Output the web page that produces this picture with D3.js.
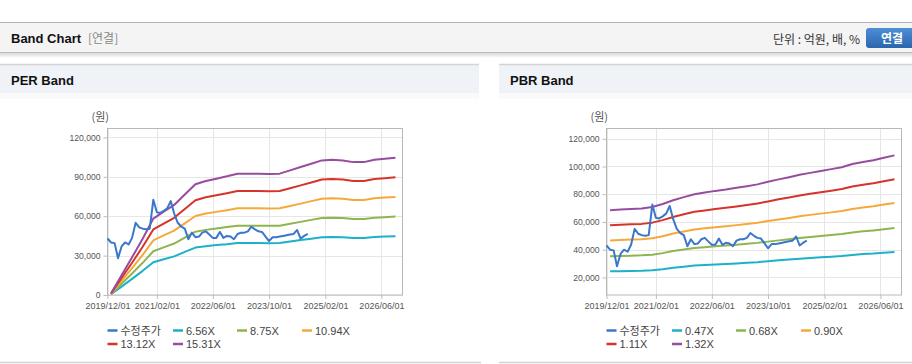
<!DOCTYPE html>
<html>
<head>
<meta charset="utf-8">
<script src="https://cdn.jsdelivr.net/npm/d3@7/dist/d3.min.js"></script>
<style>
  body { margin: 0; background: #fff; }
  svg { display: block; }
  text { font-family: "Liberation Sans", Arial, "Noto Sans CJK KR", sans-serif; }
  .kr { font-family: "Noto Sans CJK KR", "Liberation Sans", sans-serif; }
</style>
</head>
<body>
<div id="chart"></div>
<script>
// ---- data ----
var priceStart = "2019/12", bandStart = "2019/12", bandEnd = "2026/12";
var xTickLabels = ["2019/12/01", "2021/02/01", "2022/06/01", "2023/10/01", "2025/02/01", "2026/06/01"];
var seriesNames = ["수정주가"];
var perNames = ["6.56X", "8.75X", "10.94X", "13.12X", "15.31X"];
var pbrNames = ["0.47X", "0.68X", "0.90X", "1.11X", "1.32X"];
var colors = ["#3a76cc", "#1db1c9", "#8db550", "#f5a93b", "#d5332b", "#984c9d"];
var perTicks = [0, 30000, 60000, 90000, 120000];
var pbrTicks = [20000, 40000, 60000, 80000, 100000, 120000];

// monthly adjusted close
var price = [43000, 40000, 39500, 28000, 37000, 40000, 38500, 43500, 55000, 51500,
  50500, 50000, 50500, 72500, 63000, 62500, 64000, 66000, 71500, 62000,
  55000, 52000, 50500, 42500, 47500, 44000, 44500, 47500, 48500, 46000,
  43500, 43500, 48000, 43500, 45000, 44500, 42500, 46500, 47500, 47500,
  48500, 52000, 50000, 48500, 48000, 44500, 41000, 44000, 44000, 44500,
  45000, 45500, 46000, 46500, 49500, 43000, 45000, 46500];

// quarterly PER band lines
var per656 = [600, 6400, 12300, 18400, 24900, 27200, 29400, 32800, 36100, 37200, 38000, 38700, 39600, 39600, 39600,
  39500, 39600, 40700, 41800, 42900, 43900, 44100, 43900, 43400, 43400, 44100, 44500, 44800, 45300];
var per875 = [700, 8600, 16400, 24500, 33300, 36300, 39200, 43700, 48200, 49600, 50600, 51700, 52800, 52800, 52800,
  52700, 52800, 54300, 55700, 57200, 58600, 58900, 58600, 57900, 57900, 58900, 59300, 59800, 60500];
var per1094 = [900, 10700, 20500, 30600, 41600, 45400, 49000, 54600, 60200, 62000, 63300, 64600, 66000, 66000, 66000,
  65900, 66000, 67800, 69600, 71500, 73300, 73600, 73300, 72300, 72300, 73600, 74200, 74700, 75600];
var per1312 = [1100, 12900, 24600, 36700, 49900, 54400, 58800, 65500, 72200, 74400, 75900, 77500, 79200, 79200, 79200,
  79000, 79200, 81300, 83500, 85700, 87900, 88300, 87900, 86800, 86800, 88300, 89000, 89600, 90700];
var per1531 = [1300, 15000, 28700, 42900, 58200, 63500, 68600, 76500, 84300, 86800, 88600, 90400, 92400, 92400, 92400,
  92200, 92400, 94900, 97500, 100000, 102500, 103000, 102500, 101200, 101200, 103000, 103800, 104600, 105800];

// quarterly PBR band lines
var pbr047 = [24400, 24500, 24700, 24800, 25200, 25900, 26900, 27700, 28500, 28900, 29300, 29700, 30100, 30600, 31000,
  31700, 32300, 32900, 33500, 34000, 34500, 34900, 35400, 36200, 36800, 37200, 37800, 38400, 39200];
var pbr068 = [35300, 35500, 35700, 35900, 36400, 37500, 39000, 40100, 41200, 41800, 42400, 43000, 43600, 44200, 44900,
  45800, 46700, 47500, 48400, 49200, 49800, 50500, 51300, 52400, 53200, 53900, 54700, 55600, 56600];
var pbr090 = [46700, 47000, 47300, 47500, 48200, 49700, 51600, 53100, 54500, 55400, 56200, 56900, 57700, 58500, 59400,
  60700, 61800, 62900, 64100, 65100, 66000, 66900, 67900, 69400, 70400, 71300, 72500, 73600, 75000];
var pbr111 = [57600, 57900, 58300, 58600, 59500, 61300, 63600, 65500, 67300, 68300, 69300, 70200, 71200, 72200, 73300,
  74800, 76300, 77600, 79000, 80300, 81400, 82500, 83700, 85600, 86800, 87900, 89400, 90800, 92500];
var pbr132 = [68500, 68900, 69300, 69700, 70800, 72900, 75600, 77900, 80000, 81200, 82400, 83400, 84600, 85800, 87100,
  89000, 90700, 92300, 94000, 95400, 96800, 98100, 99500, 101800, 103200, 104500, 106300, 108000, 110000];

// ---- layout ----
var W = 912, H = 364;
var parseYM = d3.timeParse("%Y/%m");
var parseYMD = d3.timeParse("%Y/%m/%d");
var t0 = parseYM(bandStart), t1 = parseYM(bandEnd);
var priceDates = d3.timeMonth.range(parseYM(priceStart), d3.timeMonth.offset(parseYM(priceStart), price.length));
var bandDates = d3.timeMonth.every(3).range(t0, d3.timeMonth.offset(t1, 1));

var svg = d3.select("#chart").append("svg")
  .attr("width", W).attr("height", H);

var defs = svg.append("defs");
var sh = defs.append("linearGradient").attr("id", "shadow").attr("x1", 0).attr("y1", 0).attr("x2", 0).attr("y2", 1);
sh.append("stop").attr("offset", "0").attr("stop-color", "#d8d8d8");
sh.append("stop").attr("offset", "1").attr("stop-color", "#fff");
var bg = defs.append("linearGradient").attr("id", "btn").attr("x1", 0).attr("y1", 0).attr("x2", 0).attr("y2", 1);
bg.append("stop").attr("offset", "0").attr("stop-color", "#4d8fd6");
bg.append("stop").attr("offset", "1").attr("stop-color", "#2a65ae");

// top header
svg.append("rect").attr("x", 0).attr("y", 22).attr("width", W).attr("height", 31).attr("fill", "#f4f4f4");
svg.append("line").attr("x1", 0).attr("x2", W).attr("y1", 22.5).attr("y2", 22.5).attr("stroke", "#b4b4b4");
svg.append("line").attr("x1", 0).attr("x2", W).attr("y1", 52.5).attr("y2", 52.5).attr("stroke", "#bdbdbd");
svg.append("rect").attr("x", 0).attr("y", 53).attr("width", W).attr("height", 5).attr("fill", "url(#shadow)");

svg.append("text").attr("x", 11).attr("y", 43)
  .style("font-size", "13px").style("font-weight", "bold").attr("fill", "#111")
  .text("Band Chart");
svg.append("text").attr("class", "kr").attr("x", 88).attr("y", 43)
  .style("font-size", "12px").attr("fill", "#888").text("[연결]");
svg.append("text").attr("class", "kr").attr("x", 860).attr("y", 43.5).attr("text-anchor", "end")
  .style("font-size", "12px").attr("fill", "#333").text("단위 : 억원, 배, %");
svg.append("rect").attr("x", 866).attr("y", 28).attr("width", 56).attr("height", 20).attr("rx", 3)
  .attr("fill", "url(#btn)");
svg.append("text").attr("class", "kr").attr("x", 892).attr("y", 42.5).attr("text-anchor", "middle")
  .style("font-size", "12px").style("font-weight", "bold").attr("fill", "#fff").text("연결");

// panels
function panel(x0, x1, title) {
  svg.append("rect").attr("x", x0).attr("y", 64).attr("width", x1 - x0).attr("height", 29).attr("fill", "#eff2f7");
  svg.append("line").attr("x1", x0).attr("x2", x1).attr("y1", 64.5).attr("y2", 64.5).attr("stroke", "#d4d4d4").attr("stroke-width", 1.5);
  svg.append("rect").attr("x", x0).attr("y", 93).attr("width", x1 - x0).attr("height", 6).attr("fill", "#fafafa");
  svg.append("line").attr("x1", x0).attr("x2", x1 + 2).attr("y1", 362.5).attr("y2", 362.5).attr("stroke", "#d4d4d4").attr("stroke-width", 1.5);
  svg.append("text").attr("x", x0 + 11).attr("y", 85)
    .style("font-size", "13px").style("font-weight", "bold").attr("fill", "#111").text(title);
}
panel(0, 479, "PER Band");
panel(499, W, "PBR Band");

function bandChart(left, right, yDomain, yTicks, bandNames, bands) {
  var top = 128.5, bottom = 295;
  var x = d3.scaleTime().domain([t0, t1]).range([left, right]);
  var y = d3.scaleLinear().domain(yDomain).range([bottom, top]);
  var g = svg.append("g");

  var tickDates = xTickLabels.map(parseYMD);

  // grid
  g.selectAll(".hg").data(yTicks).enter().append("line")
    .attr("x1", left).attr("x2", right)
    .attr("y1", function(d) { return Math.round(y(d)) + 0.5; })
    .attr("y2", function(d) { return Math.round(y(d)) + 0.5; })
    .attr("stroke", "#e6e6e6");
  g.selectAll(".vg").data(tickDates).enter().append("line")
    .attr("x1", function(d) { return Math.round(x(d)) + 0.5; })
    .attr("x2", function(d) { return Math.round(x(d)) + 0.5; })
    .attr("y1", top).attr("y2", bottom)
    .attr("stroke", "#e6e6e6");

  // axes
  var yAxis = d3.axisLeft(y).tickValues(yTicks).tickSize(4).tickPadding(3).tickFormat(d3.format(",d"));
  var xAxis = d3.axisBottom(x).tickValues(tickDates).tickSize(4).tickPadding(4).tickFormat(d3.timeFormat("%Y/%m/%d"));
  var ya = g.append("g").attr("transform", "translate(" + left + ",0)").call(yAxis);
  var xa = g.append("g").attr("transform", "translate(0," + bottom + ")").call(xAxis);
  [ya, xa].forEach(function(a) {
    a.select(".domain").remove();
    a.selectAll("line").attr("stroke", "#bdbdbd");
    a.selectAll("text").attr("fill", "#555").style("font-size", "9px")
      .style("font-family", "'Liberation Sans', Arial, sans-serif");
  });
  ya.selectAll("text").style("font-size", "8.6px");

  g.append("rect").attr("x", left).attr("y", top).attr("width", right - left).attr("height", bottom - top)
    .attr("fill", "none").attr("stroke", "#b8b8b8");

  g.append("text").attr("class", "kr").attr("x", left - 16).attr("y", 121)
    .style("font-size", "11px").attr("fill", "#555").text("(원)");

  var line = d3.line().x(function(d) { return x(d[0]); }).y(function(d) { return y(d[1]); });

  bands.forEach(function(b, i) {
    g.append("path").datum(d3.zip(bandDates, b)).attr("d", line)
      .attr("fill", "none").attr("stroke", colors[i + 1]).attr("stroke-width", 2).attr("stroke-linejoin", "round");
  });
  g.append("path").datum(d3.zip(priceDates, price)).attr("d", line)
    .attr("fill", "none").attr("stroke", colors[0]).attr("stroke-width", 2).attr("stroke-linejoin", "round");

  // legend
  var names = seriesNames.concat(bandNames);
  var offs = [0, 65.5, 129.5, 194.5];
  names.forEach(function(n, i) {
    var lx = left + offs[i % 4], ly = 330.5 + Math.floor(i / 4) * 13.5;
    g.append("line").attr("x1", lx).attr("x2", lx + 10).attr("y1", ly).attr("y2", ly)
      .attr("stroke", colors[i]).attr("stroke-width", 2.5);
    g.append("text").attr("class", i === 0 ? "kr" : null).attr("x", lx + 13).attr("y", ly + 4)
      .style("font-size", "11px").attr("fill", "#444").text(n);
  });
}

bandChart(107.5, 402.5, [0, 126800], perTicks, perNames, [per656, per875, per1094, per1312, per1531]);
bandChart(606.5, 901.5, [7300, 127400], pbrTicks, pbrNames, [pbr047, pbr068, pbr090, pbr111, pbr132]);
</script>
</body>
</html>
